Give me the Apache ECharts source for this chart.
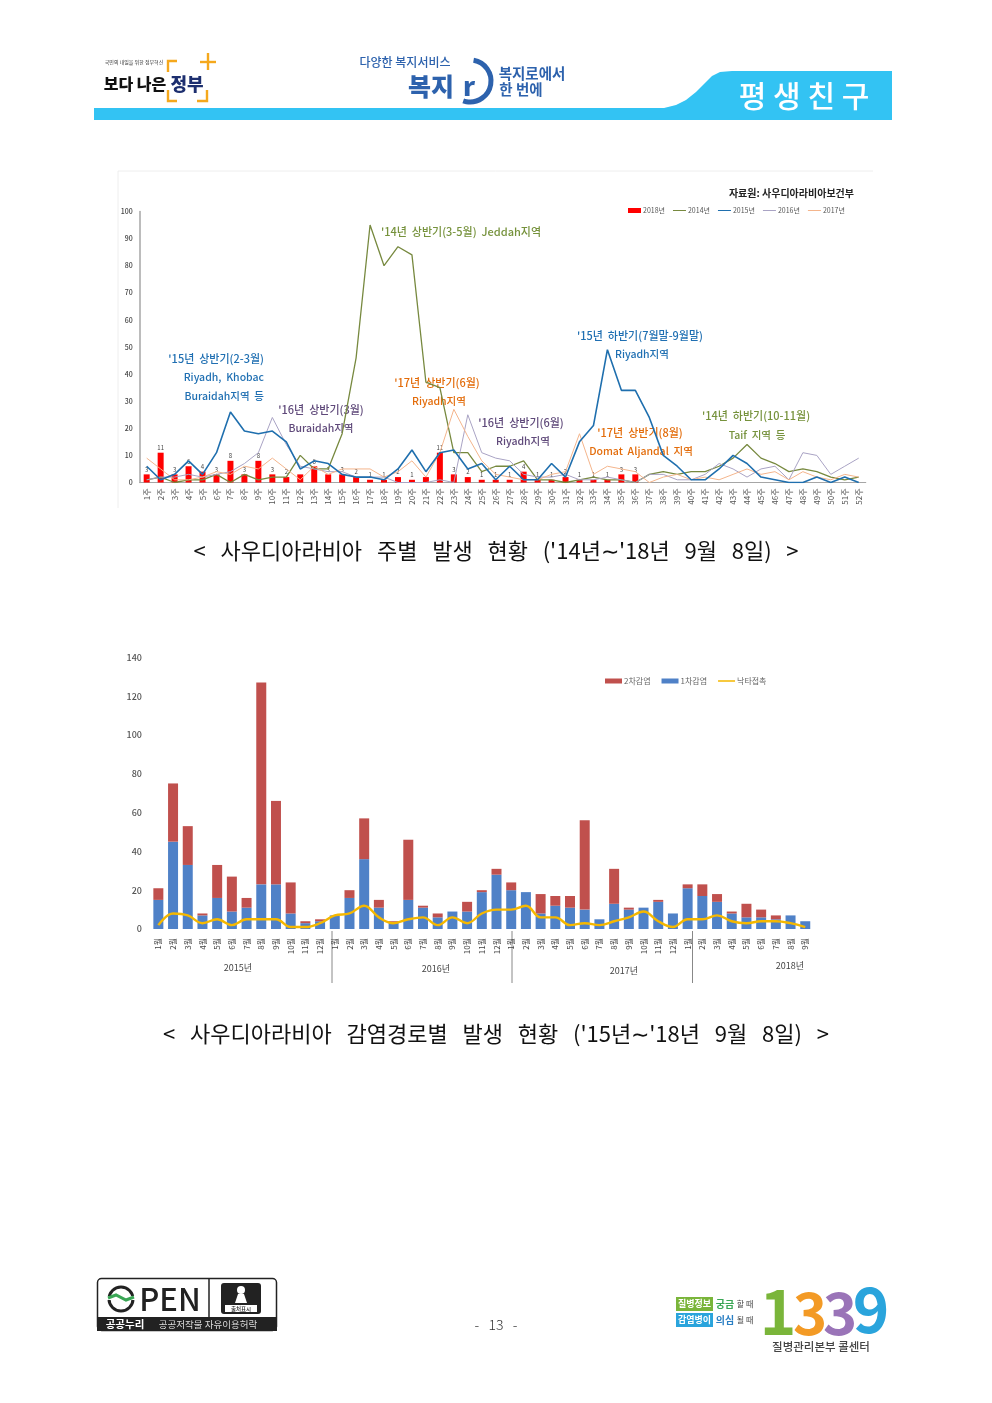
<!DOCTYPE html>
<html><head><meta charset="utf-8">
<style>html,body{margin:0;padding:0;background:#fff}#c{width:992px;height:1403px}</style>
<script src="https://cdn.jsdelivr.net/npm/echarts@6/dist/echarts.min.js"></script>
</head><body><div id="c"></div>
<script>
const weeks=['1주','2주','3주','4주','5주','6주','7주','8주','9주','10주','11주','12주','13주','14주','15주','16주','17주','18주','19주','20주','21주','22주','23주','24주','25주','26주','27주','28주','29주','30주','31주','32주','33주','34주','35주','36주','37주','38주','39주','40주','41주','42주','43주','44주','45주','46주','47주','48주','49주','50주','51주','52주'];
const y2018=[3,11,3,6,4,3,8,3,8,3,2,3,6,3,3,2,1,1,2,1,2,11,3,2,1,1,1,4,1,1,2,1,1,1,3,3];
const y2018Labels=['3','11','3','6','4','3','8','3','8','3','2','','6','3','3','2','1','1','2','1','','11','3','2','1','1','1','4','1','1','2','1','1','1','3','3'];
const y2014=[1,2,0,1,1,3,0,3,1,2,2,10,5,5,18,46,95,80,87,84,37,35,11,11,4,6,6,8,1,1,0,1,2,1,1,0,3,4,3,4,4,6,9,14,9,7,4,5,4,2,1,2];
const y2015=[6,1,3,8,3,11,26,19,18,19,15,5,8,7,3,2,2,1,5,12,4,11,12,5,7,1,6,1,1,7,2,15,21,49,34,34,24,10,6,1,1,5,10,7,2,1,0,0,2,0,2,0];
const y2016=[1,2,2,3,2,3,4,7,11,24,14,6,5,4,4,2,2,2,0,0,0,1,0,25,11,9,8,3,2,2,3,1,1,2,1,0,3,3,1,1,3,7,5,2,5,6,1,11,10,3,6,9];
const y2017=[9,5,1,1,2,4,3,6,5,9,5,1,6,3,5,5,5,2,4,8,2,11,27,17,8,3,2,1,1,3,4,18,3,6,5,4,0,2,3,1,2,1,3,5,3,4,1,4,2,1,3,2];

const months=['1월','2월','3월','4월','5월','6월','7월','8월','9월','10월','11월','12월','1월','2월','3월','4월','5월','6월','7월','8월','9월','10월','11월','12월','1월','2월','3월','4월','5월','6월','7월','8월','9월','10월','11월','12월','1월','2월','3월','4월','5월','6월','7월','8월','9월'];
const primary=[15,45,33,7,16,9,11,23,23,8,3,4,7,16,36,11,3,15,11,6,9,9,19,28,20,19,8,12,11,10,5,13,10,11,14,8,21,17,14,8,6,6,5,7,4];
const secondary=[6,30,20,1,17,18,5,104,43,16,1,1,0,4,21,4,1,31,1,2,0,5,1,3,4,0,10,5,6,46,0,18,1,0,1,0,2,6,4,1,7,4,2,0,0];
const camel=[2,8,7,3,5,2,5,5,5,1,1,3,7,8,12,6,3,5,6,2,6,3,8,10,10,12,6,6,2,3,2,4,6,9,4,1,5,5,7,4,3,4,4,3,1];

const KR='"Noto Sans CJK KR"';
const txt=(text,x,y,size,fill,weight,align)=>({type:'text',silent:true,style:{text,x,y,fill,font:`${weight||400} ${size}px ${KR}`,align:align||'center',verticalAlign:'middle',textAlign:align||'center',textVerticalAlign:'middle'}});
const poly=(points,fill)=>({type:'polygon',silent:true,shape:{points},style:{fill}});
const line=(x1,y1,x2,y2,stroke,w)=>({type:'line',silent:true,shape:{x1,y1,x2,y2},style:{stroke,lineWidth:w||1}});
const rect=(x,y,width,height,fill,r)=>({type:'rect',silent:true,shape:{x,y,width,height,r:r||0},style:{fill}});
const pl=(points,stroke,w)=>({type:'polyline',silent:true,shape:{points},style:{stroke,lineWidth:w,fill:'none'}});

const OL='#76923c',BL='#1f6fb2',PU='#5f497a',OR='#e36c0a';
const THIN='path://M0 0L0.01 0L0 0Z M0 3.4H40V6.6H0Z M0 10L0.01 10L0 10Z';
const graphics=[
 // header
 poly([[94,108],[664,108],[676,105],[686,100],[696,92],[704,84],[712,76],[720,72],[732,71],[892,71],[892,120],[94,120]],'#33c3f3'),
 txt('평 생 친 구',804,96,30,'#fff',500),
 txt('국민의 내일을 위한 정부혁신',134,62,5,'#333'),
 txt('보다 나은',135,84,16,'#111',900),
 txt('정부',187,84,18,'#1d2f6f',900),
 pl([[177,61],[168,61],[168,72]],'#f5a81c',2.4),
 pl([[168,90],[168,101],[177,101]],'#f5a81c',2.4),
 pl([[197,101],[207,101],[207,90]],'#f5a81c',2.4),
 line(200,62,216,62,'#f5a81c',2.4),line(208,53,208,70,'#f5a81c',2.4),
 txt('다양한 복지서비스',405,62,12,'#2d62ad',500),
 txt('복지',431,86,25,'#2d62ad',900),
 txt('r',469,86,26,'#2d62ad',900),
 {type:'arc',silent:true,shape:{cx:470,cy:81,r:21,startAngle:-1.4,endAngle:1.9},style:{stroke:'#2d62ad',lineWidth:5,fill:'none'}},
 txt('복지로에서',532,73,14.5,'#2d62ad',700),
 txt('한 번에',521,89,14.5,'#2d62ad',700),
 // chart 1 frame
 line(118,171,873,171,'#eeeeee',1),line(118,171,118,508,'#eeeeee',1),
 txt('자료원: 사우디아라비아보건부',854,193,10,'#222',700,'right'),
 txt("'14년  상반기(3-5월)  Jeddah지역",461,232,11,OL,500),
 txt("'15년  상반기(2-3월)",264,359,11,BL,500,'right'),
 txt('Riyadh,  Khobac',264,377,10.5,BL,500,'right'),
 txt('Buraidah지역  등',264,396,10.5,BL,500,'right'),
 txt("'16년  상반기(3월)",321,410,11,PU,500),
 txt('Buraidah지역',321,428,10.5,PU,500),
 txt("'17년  상반기(6월)",437,383,11,OR,500),
 txt('Riyadh지역',439,401,10.5,OR,500),
 txt("'16년  상반기(6월)",521,423,11,PU,500),
 txt('Riyadh지역',523,441,10.5,PU,500),
 txt("'15년  하반기(7월말-9월말)",640,336,11,BL,500),
 txt('Riyadh지역',642,354,10.5,BL,500),
 txt("'17년  상반기(8월)",640,433,11,OR,500),
 txt('Domat  Aljandal  지역',641,451,10.5,OR,500),
 txt("'14년  하반기(10-11월)",756,416,11,OL,500),
 txt('Taif  지역  등',757,435,10.5,OL,500),
 // captions
 txt("<   사우디아라비아   주별   발생   현황   ('14년∼'18년   9월   8일)   >",496,551,22,'#111',400),
 txt("<   사우디아라비아   감염경로별   발생   현황   ('15년∼'18년   9월   8일)   >",496,1034,22,'#111',400),
 // chart 2 extras
 line(332,931,332,983,'#888',1),line(512,931,512,983,'#888',1),line(692.5,931,692.5,983,'#888',1),
 txt('2015년',238,968,9,'#444'),txt('2016년',436,969,9,'#444'),txt('2017년',624,971,9,'#444'),txt('2018년',790,966,9,'#444'),
 // footer
 {type:'rect',silent:true,shape:{x:97.5,y:1278.5,width:179,height:52,r:4},style:{fill:'#fff',stroke:'#222',lineWidth:1.5}},
 rect(97,1317,180,14,'#222'),
 line(209,1279,209,1317,'#222',1.5),
 {type:'circle',silent:true,shape:{cx:121,cy:1299,r:12},style:{fill:'none',stroke:'#222',lineWidth:3}},
 rect(106,1296,30,4,'#fff'),
 pl([[108,1298],[116,1295],[126,1300],[134,1297]],'#3aa655',3),
 txt('PEN',170,1299,31,'#222',500),
 rect(221,1283,40,31,'#222',3),
 {type:'circle',silent:true,shape:{cx:241,cy:1290,r:4},style:{fill:'#fff'}},
 poly([[235,1303],[238,1294],[244,1294],[247,1303]],'#fff'),
 rect(225,1305,32,7,'#fff'),
 txt('출처표시',241,1308.5,5.5,'#222',500),
 txt('공공누리',125,1324,10.5,'#fff',700),
 txt('공공저작물 자유이용허락',208,1324,9.5,'#ddd',400),
 txt('-   13   -',496,1325,14,'#333',300),
 rect(676,1297,37,14,'#7ab53a'),txt('질병정보',694.5,1304,9,'#fff',700),
 txt('궁금',725,1304,10,'#3aa655',700),txt('할 때',745,1304,8,'#444',400),
 rect(676,1313,37,14,'#2aa4dc'),txt('감염병이',694.5,1320,9,'#fff',700),
 txt('의심',725,1320,10,'#2a7fc4',700),txt('될 때',745,1320,8,'#444',400),
 txt('1',778,1311,62,'#7ab53a',700),
 txt('3',810,1313,58,'#f39a25',700),
 txt('3',840,1313,58,'#9a74b8',700),
 txt('9',871,1309,62,'#2aa4dc',700),
 txt('질병관리본부 콜센터',821,1347,11.5,'#444',500)
];

const lineS=(name,data,color,width,z)=>({name,type:'line',xAxisIndex:0,yAxisIndex:0,data,symbol:'none',z,lineStyle:{color,width},itemStyle:{color}});
const option={
 animation:false,
 grid:[{left:139.7,top:211.5,width:726,height:271},{left:151,top:657.3,width:661.6,height:271.7}],
 xAxis:[
  {gridIndex:0,type:'category',data:weeks,axisLine:{lineStyle:{color:'#a6a6a6',width:1.2}},axisTick:{show:false},axisLabel:{interval:0,rotate:90,fontSize:8,color:'#555',margin:6,fontFamily:KR}},
  {gridIndex:1,type:'category',data:months,axisLine:{show:false},axisTick:{show:false},axisLabel:{interval:0,rotate:90,fontSize:8,color:'#444',margin:9,fontFamily:KR}}
 ],
 yAxis:[
  {gridIndex:0,type:'value',min:0,max:100,interval:10,axisLine:{show:true,lineStyle:{color:'#a6a6a6',width:1.5}},axisTick:{show:false},splitLine:{show:false},axisLabel:{fontSize:7,color:'#444',margin:7,fontWeight:500,fontFamily:KR}},
  {gridIndex:1,type:'value',min:0,max:140,interval:20,axisLine:{show:false},axisTick:{show:false},splitLine:{show:false},axisLabel:{fontSize:9,color:'#555',margin:9,fontWeight:500,fontFamily:KR}}
 ],
 legend:[
  {left:623,top:202,itemWidth:13,itemHeight:5,itemGap:8,textStyle:{fontSize:7,color:'#555',fontFamily:KR,padding:[0,0,0,-3]},data:[{name:'2018년',icon:'rect'},{name:'2014년',icon:THIN},{name:'2015년',icon:THIN},{name:'2016년',icon:THIN},{name:'2017년',icon:THIN}]},
  {left:600,top:672,itemWidth:17,itemHeight:5,itemGap:11,textStyle:{fontSize:8,color:'#666',fontFamily:KR,padding:[0,0,0,-3]},data:[{name:'2차감염',icon:'rect'},{name:'1차감염',icon:'rect'},{name:'낙타접촉',icon:THIN}]}
 ],
 series:[
  {name:'2018년',type:'bar',xAxisIndex:0,yAxisIndex:0,data:y2018,barWidth:6,z:2,itemStyle:{color:'#ff0000'},
   label:{show:true,position:'top',distance:2,fontSize:6,color:'#444',fontFamily:KR,formatter:p=>y2018Labels[p.dataIndex]}},
  lineS('2014년',y2014,'#77893f',1.3,3),
  lineS('2016년',y2016,'#a9a3c4',1,3),
  lineS('2017년',y2017,'#f4b58c',1,3),
  lineS('2015년',y2015,'#1f6fae',1.6,4),
  {name:'1차감염',type:'bar',stack:'t',xAxisIndex:1,yAxisIndex:1,data:primary,barWidth:10,itemStyle:{color:'#4f81c7'}},
  {name:'2차감염',type:'bar',stack:'t',xAxisIndex:1,yAxisIndex:1,data:secondary,barWidth:10,itemStyle:{color:'#c0504d'}},
  {name:'낙타접촉',type:'line',xAxisIndex:1,yAxisIndex:1,data:camel,smooth:0.4,symbol:'none',z:5,lineStyle:{color:'#f5b800',width:2.4},itemStyle:{color:'#f5b800'}}
 ],
 graphic:graphics
};
echarts.init(document.getElementById('c'),null,{renderer:'canvas',width:992,height:1403}).setOption(option);
</script></body></html>
